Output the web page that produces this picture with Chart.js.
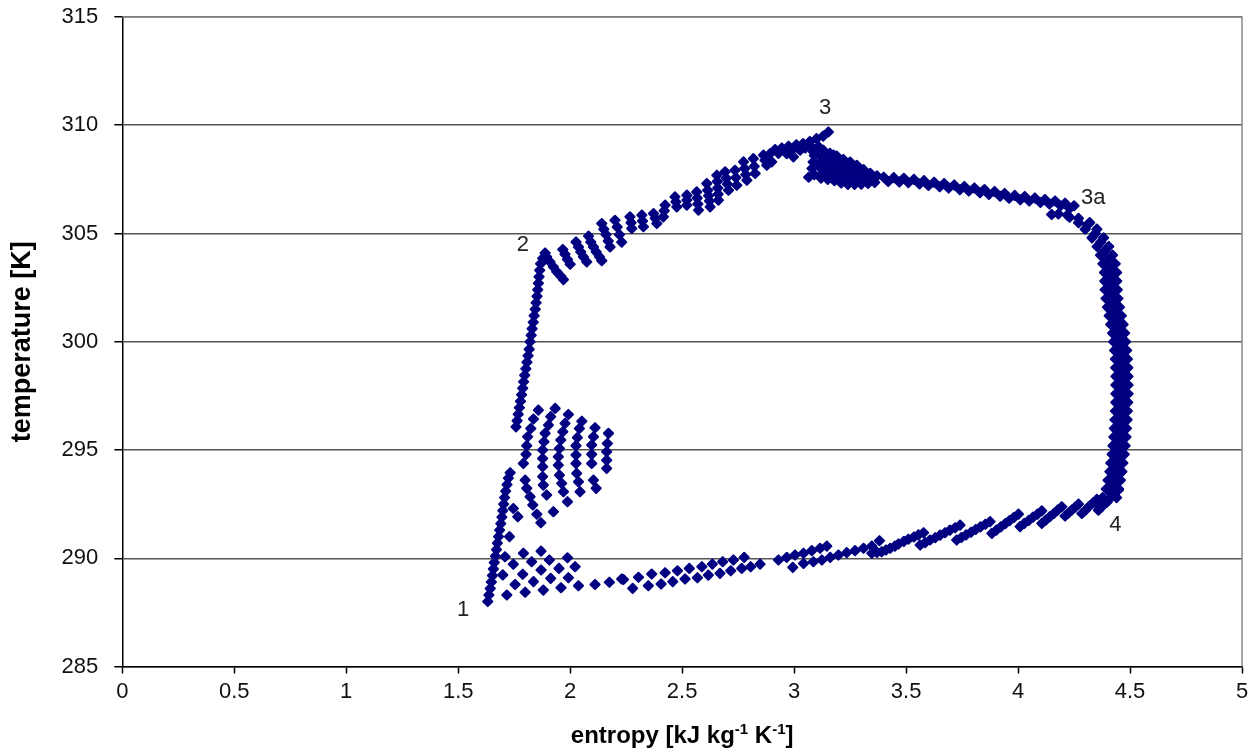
<!DOCTYPE html>
<html>
<head>
<meta charset="utf-8">
<script src="https://cdn.jsdelivr.net/npm/chart.js@4.4.0/dist/chart.umd.min.js"></script>
<style>
  html, body { margin: 0; padding: 0; background: #fff; }
  #wrap { width: 1258px; height: 751px; }
</style>
</head>
<body>
<div id="wrap"><canvas id="tsChart"></canvas></div>
<script>
// entropy [kJ/kg/K], temperature [K] pairs, one array per part of the cycle

// 1 -> first compression leg
const steepLow = [[1.632,288.0],[1.637,288.3],[1.643,288.6],[1.648,288.9],[1.653,289.2],[1.657,289.5],[1.661,289.8],[1.666,290.1],[1.671,290.4],[1.675,290.7],[1.680,291.0],[1.685,291.3],[1.690,291.6],[1.695,291.9],[1.699,292.2],[1.703,292.5],[1.707,292.8],[1.712,293.1],[1.718,293.4],[1.724,293.7],[1.732,293.95]];

// second compression leg up to 2
const steepHigh = [[1.758,296.07],[1.763,296.35],[1.768,296.65],[1.773,296.95],[1.778,297.25],[1.783,297.55],[1.788,297.85],[1.792,298.15],[1.797,298.45],[1.802,298.75],[1.807,299.05],[1.812,299.35],[1.817,299.65],[1.821,300.0],[1.826,300.3],[1.830,300.6],[1.835,300.9],[1.839,301.2],[1.844,301.5],[1.848,301.8],[1.852,302.1],[1.855,302.4],[1.858,302.7],[1.861,303.0],[1.864,303.3],[1.868,303.6],[1.877,303.85],[1.888,304.1]];

// intermediate states between the two legs
const fanPts = [
  [1.858,296.84],[1.836,296.43],[1.824,295.99],[1.810,295.61],[1.806,295.2],[1.803,294.8],[1.791,294.38],[1.799,293.61],[1.806,293.23],[1.821,292.84],[1.833,292.46],[1.851,292.03],[1.869,291.64],
  [1.933,296.92],[1.913,296.54],[1.903,296.15],[1.888,295.77],[1.883,295.38],[1.877,295.0],[1.877,294.61],[1.877,294.23],[1.877,293.77],[1.880,293.38],[1.895,292.92],[1.925,292.15],
  [1.992,296.64],[1.977,296.23],[1.967,295.84],[1.958,295.46],[1.952,295.07],[1.947,294.69],[1.947,294.30],[1.952,293.84],[1.962,293.46],[1.970,293.07],[1.988,292.61],
  [2.052,296.33],[2.041,295.99],[2.032,295.57],[2.026,295.2],[2.026,294.77],[2.026,294.38],[2.029,293.92],[2.037,293.53],[2.044,293.07],
  [2.111,296.03],[2.104,295.61],[2.096,295.23],[2.096,294.8],[2.096,294.38],[2.104,293.61],[2.116,293.23],
  [2.171,295.77],[2.166,295.3],[2.163,294.92],[2.163,294.53],[2.163,294.15],
  [1.746,292.30],[1.766,291.92],[1.729,291.0]
];

// low-temperature lattice next to state 1
const latticePts = [
  [1.709,290.07],[1.791,290.23],[1.870,290.33],[1.988,290.02],
  [1.746,289.72],[1.828,289.84],[1.907,289.92],[2.022,289.61],
  [1.699,289.23],[1.788,289.26],[1.870,289.46],[1.950,289.53],
  [1.754,288.79],[1.836,288.92],[1.913,289.07],[1.992,289.10],
  [1.717,288.30],[1.799,288.43],[1.880,288.53],[1.959,288.64],[2.037,288.73],[2.111,288.79],[2.175,288.89],[2.230,289.04]
];

// heat rejection 4 -> 1, lower strings
const lowerRows = [
  [2.238,289.02],[2.305,289.12],[2.364,289.27],[2.424,289.33],[2.479,289.42],[2.532,289.53],[2.588,289.61],[2.635,289.73],[2.681,289.84],[2.729,289.92],[2.777,290.04],
  [2.279,288.61],[2.349,288.73],[2.406,288.81],[2.458,288.92],[2.513,289.04],[2.568,289.10],[2.617,289.22],[2.669,289.30],[2.717,289.42],[2.766,289.53],[2.806,289.61],[2.848,289.73],
  [2.930,289.92],[2.967,290.04],[3.004,290.15],[3.042,290.23],[3.079,290.35],[3.116,290.46],[3.146,290.56],
  [2.994,289.58],[3.042,289.76],[3.086,289.84],[3.124,289.92],[3.161,290.04],[3.198,290.15],[3.235,290.26],[3.272,290.35],[3.310,290.46],[3.347,290.56],[3.381,290.81]
];

// short strings approaching state 4
const lowerDashes = [
  [3.347,290.23],[3.370,290.27],[3.391,290.30],[3.410,290.38],[3.429,290.46],[3.450,290.56],[3.466,290.66],[3.490,290.78],[3.510,290.88],[3.535,290.98],[3.555,291.08],[3.578,291.18],
  [3.563,290.61],[3.585,290.72],[3.607,290.84],[3.630,290.95],[3.652,291.07],[3.674,291.18],[3.696,291.30],[3.719,291.41],[3.741,291.53],
  [3.726,290.84],[3.747,290.96],[3.768,291.08],[3.790,291.20],[3.811,291.33],[3.832,291.45],[3.854,291.57],[3.875,291.69],
  [3.883,291.15],[3.903,291.30],[3.923,291.45],[3.943,291.60],[3.962,291.74],[3.982,291.89],[4.002,292.04],
  [4.009,291.46],[4.028,291.61],[4.048,291.75],[4.067,291.90],[4.087,292.04],[4.106,292.19],
  [4.106,291.61],[4.124,291.76],[4.142,291.92],[4.160,292.07],[4.177,292.23],[4.195,292.38],
  [4.210,291.95],[4.225,292.09],[4.240,292.23],[4.255,292.36],[4.270,292.50],
  [4.285,292.07],[4.302,292.23],[4.318,292.40],[4.335,292.56],[4.352,292.72],
  [4.359,292.22],[4.377,292.41],[4.395,292.60],[4.412,292.78],[4.430,292.97],[4.448,293.15]
];

// heat addition 2 -> 3
const upperCols = [
  [1.895,303.92],[1.910,303.69],[1.925,303.46],[1.940,303.23],[1.958,303.03],[1.970,302.87],
  [1.967,304.26],[1.977,304.04],[1.988,303.80],[2.000,303.58],
  [2.026,304.61],[2.037,304.38],[2.047,304.15],[2.059,303.92],[2.074,303.69],
  [2.082,304.88],[2.092,304.61],[2.104,304.38],[2.116,304.15],[2.131,303.92],[2.141,303.74],
  [2.141,305.46],[2.150,305.20],[2.160,304.95],[2.170,304.65],[2.178,304.38],
  [2.200,305.61],[2.210,305.30],[2.220,304.95],[2.230,304.60],
  [2.267,305.77],[2.272,305.50],[2.275,305.23],
  [2.320,305.85],[2.323,305.58],[2.327,305.31],
  [2.372,305.92],[2.380,305.70],[2.387,305.46],
  [2.424,306.31],[2.420,306.05],[2.416,305.77],
  [2.468,306.69],[2.472,306.46],[2.476,306.23],
  [2.521,306.77],[2.521,306.54],[2.521,306.31],
  [2.565,306.92],[2.567,306.64],[2.570,306.36],[2.573,306.08],
  [2.610,307.31],[2.614,307.00],[2.618,306.75],[2.622,306.50],[2.625,306.23],
  [2.655,307.69],[2.657,307.40],[2.659,307.10],[2.661,306.82],[2.662,306.54],
  [2.692,307.85],[2.697,307.55],[2.702,307.28],[2.707,307.00],
  [2.736,307.92],[2.740,307.58],[2.744,307.23],
  [2.774,308.31],[2.779,308.00],[2.784,307.72],[2.789,307.46],
  [2.818,308.46],[2.822,308.10],[2.826,307.77],
  [2.863,308.62],[2.870,308.38],[2.878,308.15],
  [2.893,308.69],[2.900,308.31]
];

// around state 3
const peakCluster = [
  [2.915,308.88],[2.945,308.95],[2.975,309.03],[3.010,309.10],[3.040,309.15],[3.070,309.25],[3.100,309.38],[3.130,309.50],[3.153,309.69],
  [2.930,308.70],[2.960,308.78],[2.990,308.85],[3.020,308.92],[3.050,308.95],[3.080,308.98],[3.110,309.00],
  [2.967,308.69],[2.997,308.54],[3.027,308.85],[3.086,308.77],[3.116,308.62],[3.146,308.46],[3.176,308.62],
  [3.130,308.85],[3.160,308.70],[3.190,308.58],[3.220,308.42],[3.250,308.30],[3.280,308.15],[3.310,307.95],[3.340,307.78],[3.370,307.66],
  [3.090,307.72],[3.120,307.56],[3.150,307.50],[3.180,307.44],[3.210,307.33],[3.240,307.27],[3.270,307.27],[3.300,307.28],[3.330,307.31],[3.360,307.36],
  [3.080,308.00],[3.085,308.30],[3.090,308.60],[3.120,308.00],[3.150,308.20],[3.180,308.00],[3.210,307.80],[3.240,307.70],[3.150,307.80],
  [3.120,308.30],[3.180,307.70],[3.270,307.60],[3.300,307.60],[3.130,308.50],
  [3.100,308.20],[3.100,308.90],[3.130,307.80],[3.130,308.10],[3.130,308.70],[3.160,307.70],[3.160,308.00],[3.160,308.35],
  [3.190,307.60],[3.190,307.85],[3.190,308.25],[3.220,307.55],[3.220,307.80],[3.220,308.10],[3.250,307.50],[3.250,307.75],
  [3.250,308.00],[3.280,307.50],[3.280,307.80],[3.310,307.50],[3.310,307.75],[3.340,307.55],[3.065,307.60]
];

// expansion 3 -> 3a
const tailUpper = [[3.400,307.60],[3.445,307.58],[3.490,307.55],[3.535,307.50],[3.580,307.44],[3.625,307.37],[3.670,307.31],[3.715,307.24],[3.760,307.17],[3.805,307.10],[3.850,307.03],[3.895,306.94],[3.940,306.85],[3.985,306.76],[4.030,306.71],[4.075,306.64],[4.120,306.57],[4.165,306.50],[4.210,306.40],[4.250,306.28]];
const tailLower = [[3.420,307.40],[3.470,307.38],[3.510,307.35],[3.560,307.29],[3.600,307.22],[3.650,307.16],[3.690,307.10],[3.740,307.02],[3.780,306.96],[3.830,306.88],[3.870,306.80],[3.920,306.72],[3.960,306.63],[4.010,306.56],[4.050,306.50],[4.100,306.43],[4.140,306.36],[4.190,306.28],[4.230,306.16]];

// expansion 3a -> 4, three strands of the band
const bandLeft = [[4.363,292.4],[4.378,292.8],[4.394,293.2],[4.402,293.6],[4.410,294.0],[4.414,294.4],[4.420,294.8],[4.424,295.2],[4.428,295.6],[4.430,296.0],[4.433,296.4],[4.435,296.8],[4.436,297.2],[4.437,297.6],[4.437,298.0],[4.437,298.4],[4.436,298.8],[4.435,299.2],[4.431,299.6],[4.427,300.0],[4.422,300.4],[4.414,300.8],[4.407,301.2],[4.399,301.6],[4.393,302.0],[4.389,302.4],[4.387,302.8],[4.386,303.2],[4.379,303.6],[4.368,304.0],[4.353,304.4],[4.330,304.8],[4.300,305.2],[4.270,305.5],[4.230,305.75]];
const bandMid = [[4.398,292.6],[4.414,293.0],[4.425,293.4],[4.433,293.8],[4.440,294.2],[4.444,294.6],[4.449,295.0],[4.452,295.4],[4.456,295.8],[4.458,296.2],[4.461,296.6],[4.462,297.0],[4.463,297.4],[4.464,297.8],[4.464,298.2],[4.464,298.6],[4.463,299.0],[4.460,299.4],[4.456,299.8],[4.451,300.2],[4.446,300.6],[4.438,301.0],[4.430,301.4],[4.422,301.8],[4.418,302.2],[4.415,302.6],[4.414,303.0],[4.410,303.4],[4.401,303.8],[4.388,304.2],[4.369,304.6],[4.345,305.0],[4.310,305.4],[4.270,305.7],[4.220,305.85],[4.180,305.9],[4.150,305.88]];
const bandRight = [[4.440,292.8],[4.449,293.2],[4.457,293.6],[4.464,294.0],[4.468,294.4],[4.474,294.8],[4.478,295.2],[4.482,295.6],[4.484,296.0],[4.487,296.4],[4.488,296.8],[4.490,297.2],[4.491,297.6],[4.491,298.0],[4.491,298.4],[4.490,298.8],[4.488,299.2],[4.485,299.6],[4.480,300.0],[4.476,300.4],[4.469,300.8],[4.461,301.2],[4.453,301.6],[4.446,302.0],[4.443,302.4],[4.441,302.8],[4.440,303.2],[4.434,303.6],[4.422,304.0],[4.405,304.4],[4.382,304.8],[4.352,305.2],[4.320,305.5]];

// state point names and where they are written
const stateNames = ['1', '2', '3', '3a', '4'];
const stateS = [1.522, 1.789, 3.138, 4.336, 4.434];
const stateT = [287.61, 304.46, 310.79, 306.63, 291.53];

const allParts = [steepLow, steepHigh, fanPts, latticePts, lowerRows, lowerDashes, upperCols, peakCluster, tailUpper, tailLower, bandLeft, bandMid, bandRight];

const NAVY = '#000080';
const FONT = "'Liberation Sans', Arial, sans-serif";

const datasets = allParts.map(part => ({
  data: part.map(p => ({ x: p[0], y: p[1] })),
  pointStyle: 'rectRot',
  pointRadius: 4.6,
  pointBorderWidth: 2,
  backgroundColor: NAVY,
  borderColor: NAVY,
  showLine: false
}));

// grey frame on the right and top of the plot; blunt marker corners
const plotFrame = {
  id: 'plotFrame',
  beforeDatasetsDraw(chart) {
    const { ctx, chartArea: a } = chart;
    ctx.save();
    ctx.strokeStyle = '#8a8a8a';
    ctx.lineWidth = 1.5;
    ctx.beginPath();
    ctx.moveTo(a.left, a.top);
    ctx.lineTo(a.right, a.top);
    ctx.lineTo(a.right, a.bottom);
    ctx.stroke();
    ctx.restore();
    ctx.save();
    ctx.lineJoin = 'round';
  },
  afterDatasetsDraw(chart) {
    chart.ctx.restore();
  }
};

// state labels and the x axis title with superscripts
const textPlugin = {
  id: 'textPlugin',
  afterDraw(chart) {
    const { ctx, scales: { x, y } } = chart;
    ctx.save();
    ctx.fillStyle = '#222';
    ctx.font = '22px ' + FONT;
    ctx.textAlign = 'center';
    ctx.textBaseline = 'middle';
    stateNames.forEach((name, i) => {
      ctx.fillText(name, x.getPixelForValue(stateS[i]), y.getPixelForValue(stateT[i]));
    });

    const big = 'bold 24px ' + FONT;
    const small = 'bold 15px ' + FONT;
    const parts = [['entropy [kJ kg', big, 0], ['-1', small, -9], [' K', big, 0], ['-1', small, -9], [']', big, 0]];
    let total = 0;
    parts.forEach(p => { ctx.font = p[1]; total += ctx.measureText(p[0]).width; });
    let cx = (chart.chartArea.left + chart.chartArea.right) / 2 - total / 2;
    const baseY = 743;
    ctx.fillStyle = '#000';
    ctx.textAlign = 'left';
    ctx.textBaseline = 'alphabetic';
    parts.forEach(p => {
      ctx.font = p[1];
      ctx.fillText(p[0], cx, baseY + p[2]);
      cx += ctx.measureText(p[0]).width;
    });
    ctx.restore();
  }
};

new Chart(document.getElementById('tsChart'), {
  type: 'scatter',
  data: { datasets },
  options: {
    responsive: true,
    maintainAspectRatio: false,
    animation: false,
    devicePixelRatio: 1,
    layout: { padding: { top: 17, right: 16, left: 0, bottom: 0 } },
    plugins: { legend: { display: false }, tooltip: { enabled: false } },
    scales: {
      x: {
        type: 'linear',
        min: 0,
        max: 5,
        afterFit: s => { s.height = 84.5; s.paddingLeft = 0; s.paddingRight = 0; },
        ticks: {
          stepSize: 0.5, color: '#111', padding: 5,
          font: { family: FONT, size: 22 },
          callback: v => String(Math.round(v * 10) / 10)
        },
        grid: { drawOnChartArea: false, drawTicks: true, tickLength: 7, tickColor: '#000', tickWidth: 1.5 },
        border: { color: '#000', width: 1.5 }
      },
      y: {
        type: 'linear',
        min: 285,
        max: 315,
        afterFit: s => { s.width = 122.3; s.paddingTop = 0; s.paddingBottom = 0; },
        ticks: { stepSize: 5, color: '#111', padding: 16, font: { family: FONT, size: 22 } },
        grid: { color: '#555', lineWidth: 1.5, tickLength: 8, tickColor: '#000', tickWidth: 1.5 },
        border: { color: '#000', width: 1.5 },
        title: { display: true, text: 'temperature [K]', color: '#000', padding: { top: 6, bottom: 0 }, font: { family: FONT, size: 27, weight: 'bold' } }
      }
    }
  },
  plugins: [plotFrame, textPlugin]
});
</script>
</body>
</html>
